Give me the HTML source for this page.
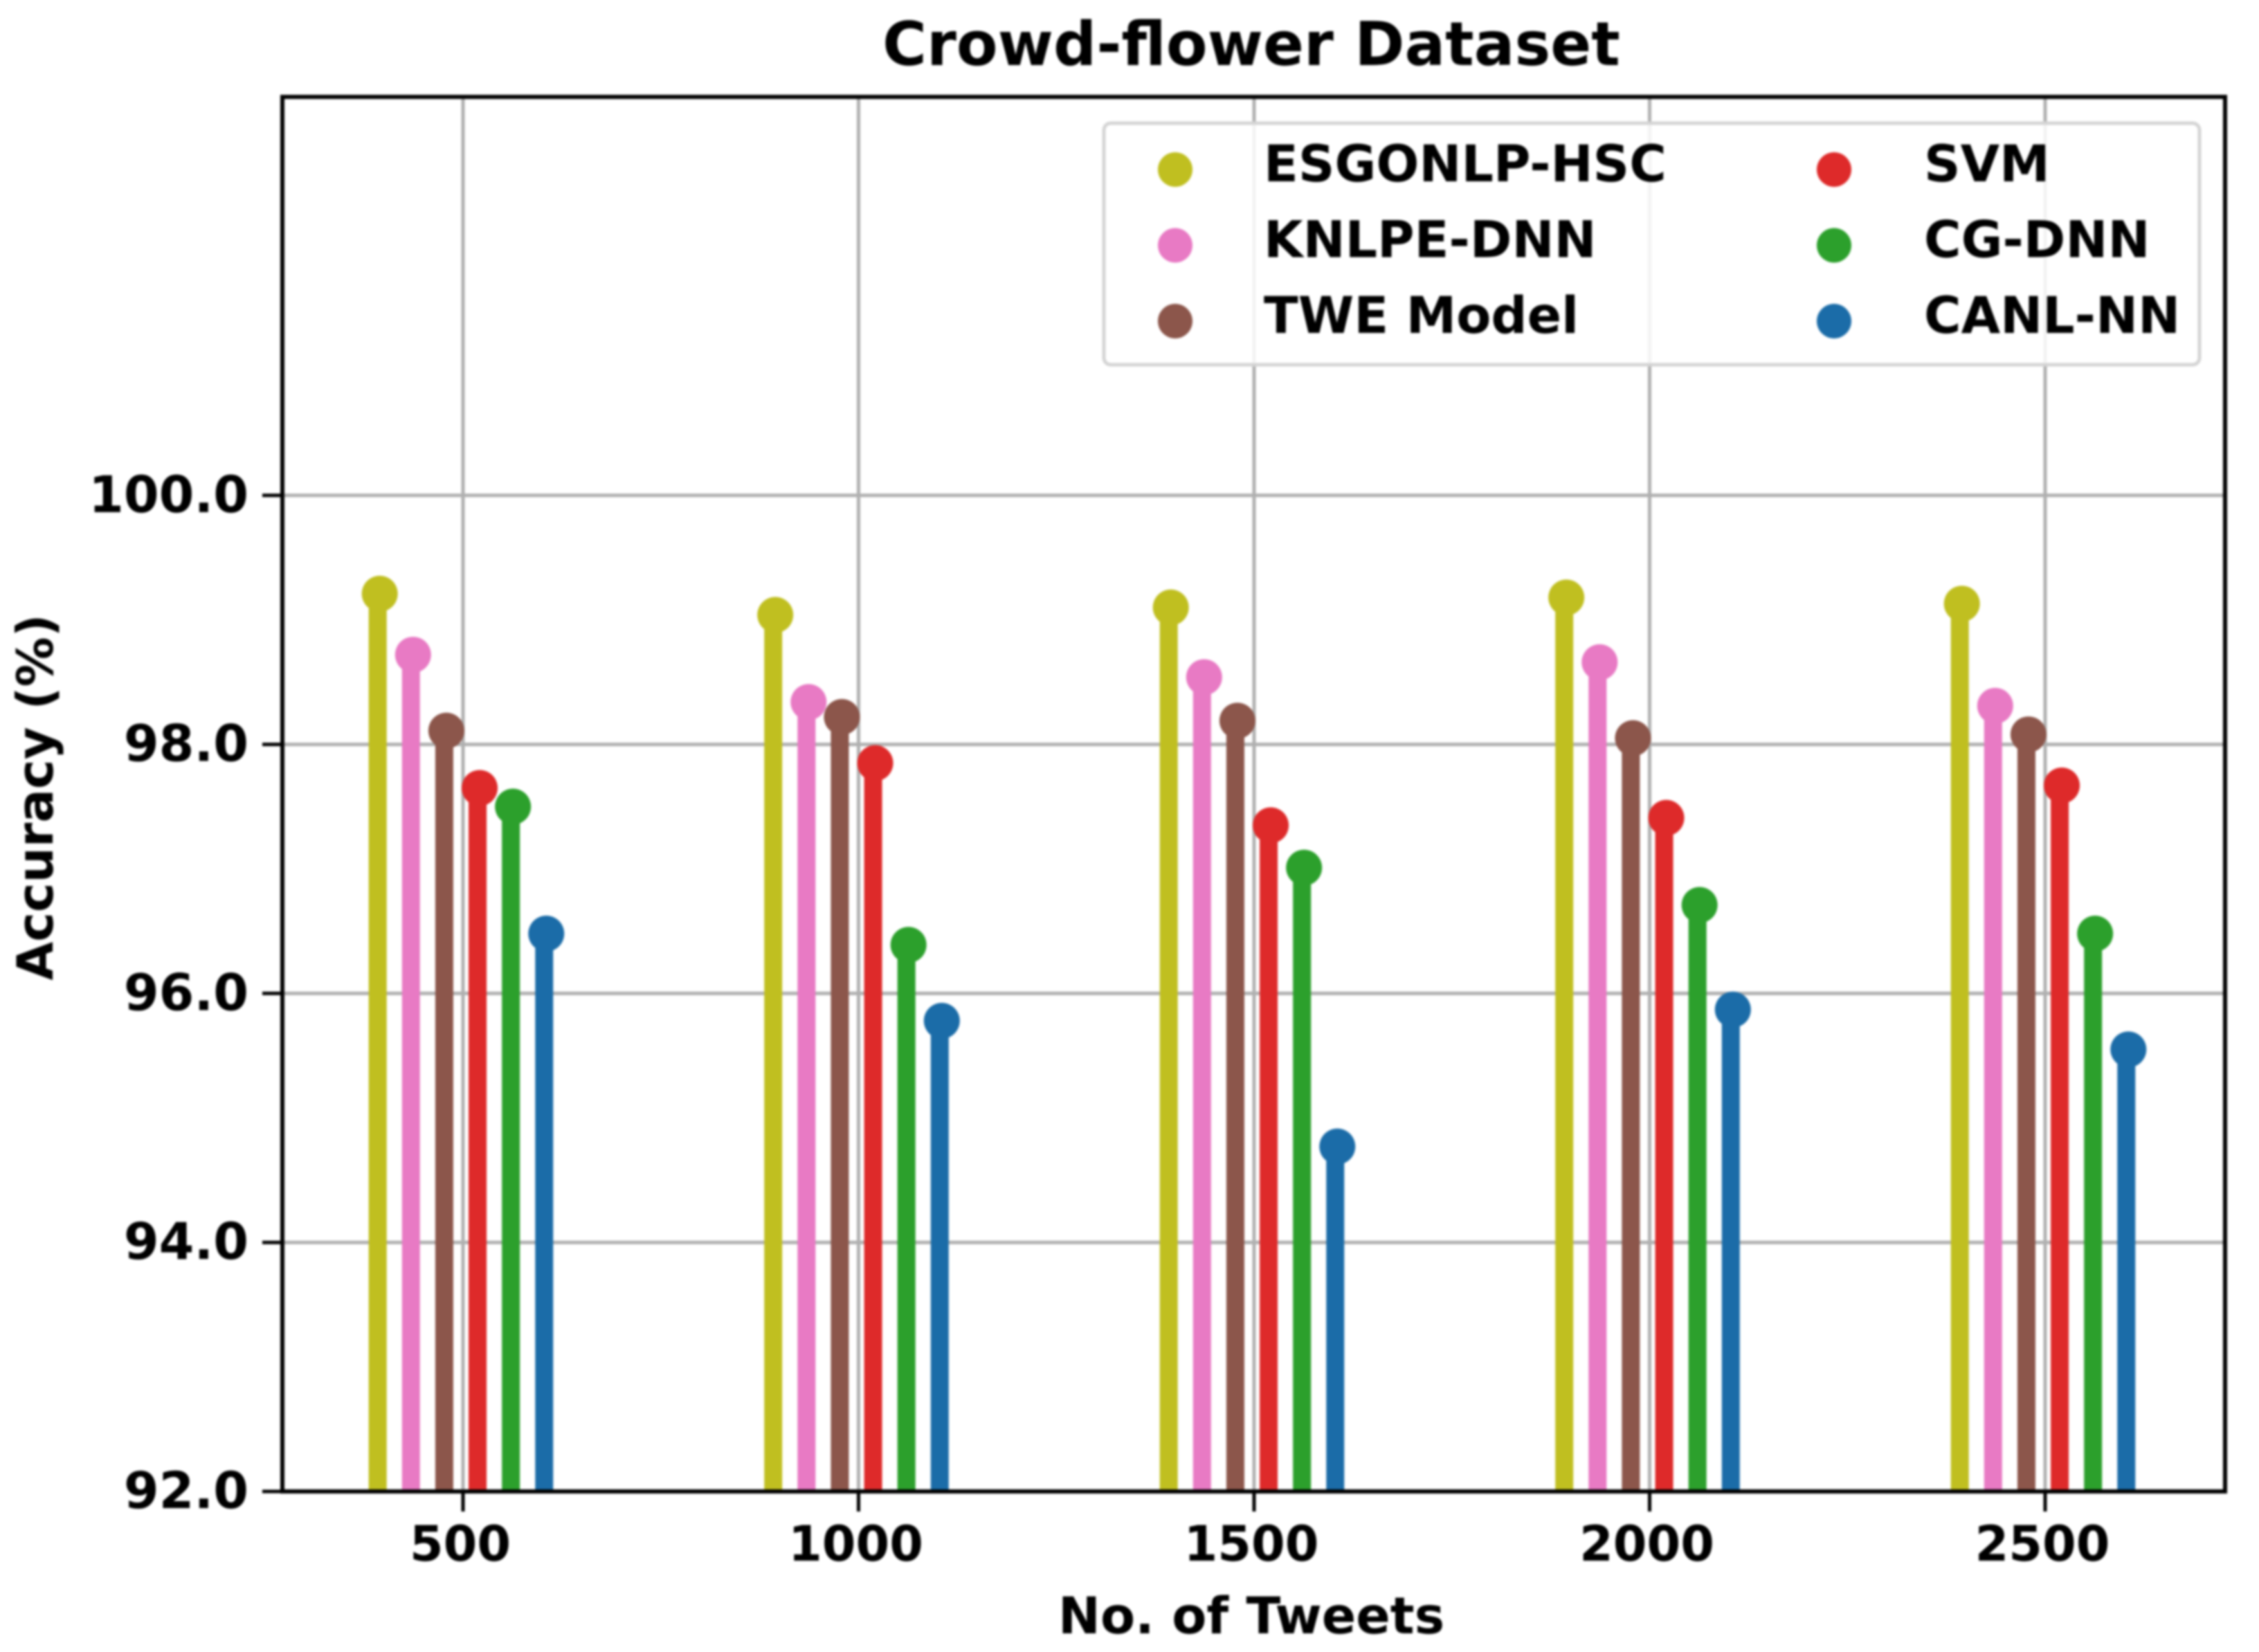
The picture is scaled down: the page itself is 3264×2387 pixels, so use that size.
<!DOCTYPE html>
<html>
<head>
<meta charset="utf-8">
<title>Crowd-flower Dataset</title>
<style>
html,body{margin:0;padding:0;background:#fff;width:3264px;height:2387px;overflow:hidden}
svg{display:block;filter:blur(1.6px)}
text{font-family:"DejaVu Sans","Liberation Sans",sans-serif;font-weight:bold;fill:#000}
</style>
</head>
<body>
<svg id="chart" xmlns="http://www.w3.org/2000/svg" width="3264" height="2387" viewBox="0 0 3264 2387">
<rect x="0" y="0" width="3264" height="2387" fill="#fff"/>
<text x="1808" y="94" font-size="87" text-anchor="middle">Crowd-flower Dataset</text>
<text x="1808" y="2360" font-size="73" text-anchor="middle">No. of Tweets</text>
<text transform="translate(76 1152) rotate(-90)" font-size="72" text-anchor="middle">Accuracy (%)</text>
<g id="plot"></g>
</svg>
<script>
const categories = [500, 1000, 1500, 2000, 2500];
const xTickLabels = ['500', '1000', '1500', '2000', '2500'];
const yTicks = [92, 94, 96, 98, 100];
const yTickLabels = ['92.0', '94.0', '96.0', '98.0', '100.0'];
const seriesNames = ['ESGONLP-HSC', 'KNLPE-DNN', 'TWE Model', 'SVM', 'CG-DNN', 'CANL-NN'];
const seriesColors = ['#c0bf20', '#e87ac4', '#8c564b', '#de2a2a', '#2ca02c', '#1b6ca8'];
const esgonlpHsc = [99.21, 99.04, 99.10, 99.18, 99.13];
const knlpeDnn = [98.72, 98.34, 98.54, 98.66, 98.31];
const tweModel = [98.11, 98.22, 98.19, 98.05, 98.08];
const svm = [97.65, 97.85, 97.35, 97.41, 97.67];
const cgDnn = [97.50, 96.39, 97.01, 96.71, 96.48];
const canlNn = [96.48, 95.78, 94.77, 95.87, 95.55];
const seriesValues = [esgonlpHsc, knlpeDnn, tweModel, svm, cgDnn, canlNn];

const AX = {left: 408, right: 3215, top: 140, bottom: 2155};
const xScale = v => 669 + (v - 500) * 1.143;
const yScale = v => 2155 - (v - 92) * 179.9;
const GROUP_STEP = 42.1;
const NS = 'http://www.w3.org/2000/svg';
const plot = document.getElementById('plot');

function make(tag, attrs, parent, text) {
  const el = document.createElementNS(NS, tag);
  for (const k in attrs) el.setAttribute(k, attrs[k]);
  if (text !== undefined) el.textContent = text;
  (parent || plot).appendChild(el);
  return el;
}

// grid lines
categories.forEach(function (c) {
  const line = make('line', {x1: xScale(c), x2: xScale(c), y1: AX.top, y2: AX.bottom, stroke: '#b0b0b0', 'stroke-width': 5});
  
  
});
yTicks.forEach(function (t) {
  const line = make('line', {x1: AX.left, x2: AX.right, y1: yScale(t), y2: yScale(t), stroke: '#b0b0b0', 'stroke-width': 5});
  
  
});

// stems and markers
seriesValues.forEach(function (values, s) {
  const g = make('g', {});
  
  
  values.forEach(function (v, i) {
    const x = xScale(categories[i] + (s - 2.5) * GROUP_STEP);
    const stem = make('line', {x1: x - 3, x2: x - 3, y1: yScale(v), y2: AX.bottom, stroke: seriesColors[s], 'stroke-width': 26}, g);
    
    
    const dot = make('circle', {cx: x, cy: yScale(v), r: 26, fill: seriesColors[s]}, g);
    
    
  });
});

// axes frame
const frame = make('rect', {x: AX.left, y: AX.top, width: AX.right - AX.left, height: AX.bottom - AX.top, fill: 'none', stroke: '#000', 'stroke-width': 6});



// ticks
categories.forEach(function (c, i) {
  const tick = make('line', {x1: xScale(c), x2: xScale(c), y1: AX.bottom, y2: AX.bottom + 29, stroke: '#000', 'stroke-width': 5});
  
  
  const label = make('text', {x: xScale(c) - 4, y: 2255, 'font-size': 70, 'text-anchor': 'middle'}, plot, xTickLabels[i]);
  
  
});
yTicks.forEach(function (t, i) {
  const tick = make('line', {x1: AX.left - 29, x2: AX.left, y1: yScale(t), y2: yScale(t), stroke: '#000', 'stroke-width': 5});
  
  
  const label = make('text', {x: 359, y: yScale(t) + 24, 'font-size': 73, 'text-anchor': 'end'}, plot, yTickLabels[i]);
  
  
});

// legend
const legend = make('g', {});


const legendBox = make('rect', {x: 1595, y: 178, width: 1583, height: 349, rx: 10, fill: '#fff', 'fill-opacity': 0.85, stroke: '#d4d4d4', 'stroke-width': 5}, legend);


seriesNames.forEach(function (name, s) {
  const col = s < 3 ? 0 : 1;
  const row = s % 3;
  const cy = 245 + row * 109.5;
  const dot = make('circle', {cx: col ? 2650 : 1698, cy: cy, r: 25, fill: seriesColors[s]}, legend);
  
  
  const txt = make('text', {x: col ? 2780 : 1826, y: cy + 17, 'font-size': 73}, legend, name);
  
  
});
</script>
</body>
</html>
